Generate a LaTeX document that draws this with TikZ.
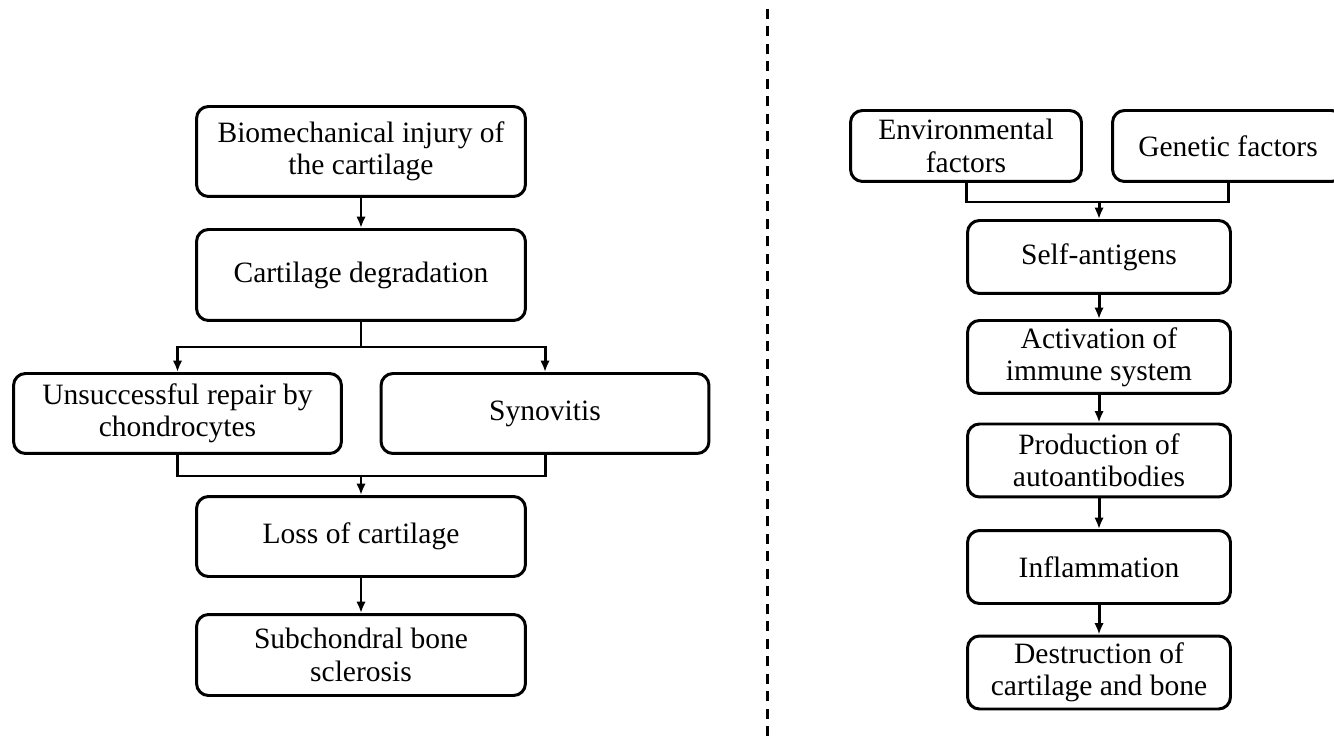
\documentclass[tikz,border=0pt]{standalone}
\usepackage{fontspec}
\setmainfont{Liberation Serif}
\usetikzlibrary{arrows.meta}

\begin{document}
\begin{tikzpicture}[x=0.02cm, y=-0.02cm,
  every node/.style={font=\fontsize{16.8}{18.4}\selectfont},
  box/.style={draw, line width=1.7pt, rounded corners=0.24cm, align=center,
    inner sep=0pt, minimum width=6.58cm, minimum height=1.8cm},
  small/.style={box, minimum height=1.6cm},
  rbox/.style={box, minimum width=5.26cm, minimum height=1.46cm},
  fbox/.style={box, minimum width=4.62cm, minimum height=1.42cm},
  link/.style={line width=1.7pt},
  arr/.style={link, -{Latex[length=2.3mm, width=1.9mm]}}
]
\useasboundingbox (0,0) rectangle (1334,742);
\clip (0,0) rectangle (1334,742);

% left: osteoarthritis
\node[box] (injury) at (361,151.5) {Biomechanical injury of\\the cartilage};
\node[box, minimum height=1.82cm] (degr) at (361,275) {Cartilage degradation};
\node[small, minimum width=6.56cm] (repair) at (177.5,413.5) {Unsuccessful repair by\\chondrocytes};
\node[small, minimum width=6.56cm] (synov) at (545,413.5) {Synovitis};
\node[small] (loss) at (361,536.5) {Loss of cartilage};
\node[small, minimum height=1.62cm] (scler) at (361,655) {Subchondral bone\\sclerosis};

\coordinate (split) at (361,347);
\coordinate (join) at (361,476);

\draw[arr] (injury) -- (degr);
\draw[link] (degr) -- (split);
\draw[arr] (split) -| (repair);
\draw[arr] (split) -| (synov);
\draw[link] (repair) |- (join);
\draw[link] (synov) |- (join);
\draw[arr] (join) -- (loss);
\draw[arr] (loss) -- (scler);

% separator
\draw[line width=1.7pt, dash pattern=on 2mm off 1.5mm] (767,9) -- (767,742);

% right: rheumatoid arthritis
\node[fbox] (env) at (966,146) {Environmental\\factors};
\node[fbox] (gen) at (1228,146) {Genetic factors};
\node[rbox] (self) at (1099,257) {Self-antigens};
\node[rbox] (immune) at (1099,357) {Activation of\\immune system};
\node[rbox] (auto) at (1099,460.5) {Production of\\autoantibodies};
\node[rbox] (infl) at (1099,567) {Inflammation};
\node[rbox] (destr) at (1099,672.5) {Destruction of\\cartilage and bone};

\coordinate (rjoin) at (1099,202);

\draw[link] (env) |- (rjoin);
\draw[link] (gen) |- (rjoin);
\draw[arr] (rjoin) -- (self);
\draw[arr] (self) -- (immune);
\draw[arr] (immune) -- (auto);
\draw[arr] (auto) -- (infl);
\draw[arr] (infl) -- (destr);
\end{tikzpicture}
\end{document}
